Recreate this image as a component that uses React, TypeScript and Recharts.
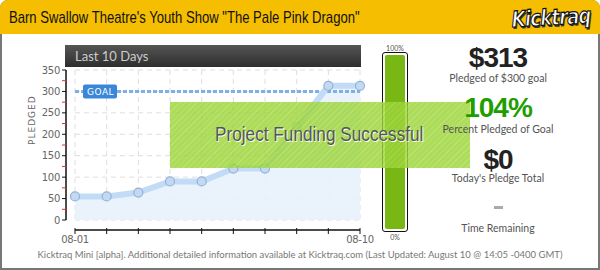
import React from 'react';
import {
  ComposedChart, Area, Line, XAxis, YAxis, CartesianGrid, ReferenceLine,
  BarChart, Bar,
} from 'recharts';

const days = ['08-01', '08-02', '08-03', '08-04', '08-05', '08-06', '08-07', '08-08', '08-09', '08-10'];
const pledged = [55, 55, 64, 90, 90, 120, 120, 217, 313, 313];
const yTicks = [0, 25, 50, 75, 100, 125, 150, 175, 200, 225, 250, 275, 300, 325, 350];
const gridValues = [0, 50, 100, 150, 200, 250, 300, 350];
const goal = 300;
const percentFunded = [104];

const chartData = days.map((day, i) => ({ day, pledged: pledged[i] }));
const barData = percentFunded.map((p) => ({ name: 'funded', pct: Math.min(p, 100) }));

const sans = '"Liberation Sans", Arial, sans-serif';
const thin = 'Lato, "Open Sans", sans-serif';

// y axis sits 9px left of the plot, x axis 10px below it
const YTick = (props: any) => {
  const { x, y, payload } = props;
  const major = payload.value % 50 === 0;
  return (
    <g>
      <line x1={x - 7} x2={x - 3} y1={y} y2={y} stroke={major ? '#111' : '#e03030'} strokeWidth={1} />
      {major && (
        <text x={x - 9} y={y} dy={3.5} textAnchor="end" fontSize={10} fill="#666" fontFamily="DejaVu Sans" letterSpacing={-0.3}>
          {payload.value}
        </text>
      )}
    </g>
  );
};

const XTick = (props: any) => {
  const { x, y, payload, index } = props;
  const show = index === 0 || index === days.length - 1;
  return (
    <g>
      <line x1={x} x2={x} y1={y + 2} y2={y + 8} stroke="#111" strokeWidth={1} />
      {show && (
        <text x={x} y={y} dy={16.5} textAnchor="middle" fontSize={10} fill="#666" fontFamily="DejaVu Sans" letterSpacing={-0.3}>
          {payload.value}
        </text>
      )}
    </g>
  );
};

const GoalLabel = (props: any) => {
  const { viewBox } = props;
  const x = viewBox.x + 8;
  const y = viewBox.y;
  return (
    <g>
      <rect x={x} y={y - 7} width={34} height={14} rx={2} fill="#3a87d8" />
      <text x={x + 4} y={y + 3.5} fontSize={9} fill="#fff" fontFamily="DejaVu Sans" letterSpacing={0.5}>GOAL</text>
    </g>
  );
};

const bigStat = (top: number, text: string, color: string) => (
  <div
    style={{
      position: 'absolute', left: 398, width: 200, top, textAlign: 'center',
      fontSize: 28, color, lineHeight: '22px', fontFamily: sans, fontWeight: 700, letterSpacing: -1,
    }}
  >
    {text}
  </div>
);

const smallStat = (top: number, text: string) => (
  <div
    style={{
      position: 'absolute', left: 398, width: 200, top, textAlign: 'center',
      fontSize: 10.5, color: '#555', lineHeight: 1, fontFamily: thin,
    }}
  >
    {text}
  </div>
);

export default function App() {
  return (
    <div style={{ position: 'absolute', left: 0, top: 0, width: 600, height: 270, background: '#fff', overflow: 'hidden' }}>
      <style>{`
        .y-shift { transform: translateX(-9px); }
        .x-shift { transform: translateY(10px); }
      `}</style>
      {/* frame */}
      <div style={{ position: 'absolute', left: 0, top: 0, width: 596, height: 266, border: '2px solid #777', borderRadius: '8px 8px 0 0' }} />
      {/* header */}
      <div style={{ position: 'absolute', left: 0, top: 0, width: 600, height: 34, background: '#f5be00', borderRadius: '8px 8px 0 0' }} />
      <div
        style={{
          position: 'absolute', left: 9, top: 8, fontSize: 17, fontFamily: sans, color: '#111', whiteSpace: 'nowrap',
          transform: 'scaleX(0.77)', transformOrigin: 'left top',
        }}
      >
        Barn Swallow Theatre's Youth Show "The Pale Pink Dragon"
      </div>
      <div
        style={{
          position: 'absolute', left: 503, top: 5, fontSize: 22, fontStyle: 'italic', fontWeight: 900,
          fontFamily: '"DejaVu Sans", sans-serif', color: '#fff', letterSpacing: -1, lineHeight: '26px',
          WebkitTextStroke: '1.2px #111', textShadow: '1px 2px 0 #333',
          transform: 'rotate(-3deg) scaleX(0.82)', transformOrigin: 'center', whiteSpace: 'nowrap',
        }}
      >
        Kicktraq
      </div>

      {/* chart title bar */}
      <div
        style={{
          position: 'absolute', left: 65, top: 45, width: 296, height: 22,
          background: 'linear-gradient(#555, #2e2e2e)', color: '#ccc', fontSize: 13,
          fontFamily: thin, lineHeight: '22px', paddingLeft: 10, boxSizing: 'border-box',
        }}
      >
        Last 10 Days
      </div>

      <div style={{ position: 'absolute', left: 0, top: 0 }}>
        <ComposedChart width={600} height={270} data={chartData} margin={{ top: 70, right: 240, bottom: 20, left: 35 }}>
          <CartesianGrid stroke="#dedede" strokeDasharray="5 4" horizontalValues={gridValues} />
          <XAxis
            dataKey="day" interval={0} className="x-shift" height={30}
            axisLine={{ stroke: '#111', strokeWidth: 1.5 }} tickLine={false}
            tickSize={4} tickMargin={2} tick={<XTick />}
          />
          <YAxis
            domain={[0, 350]} ticks={yTicks} interval={0} width={40} className="y-shift"
            axisLine={{ stroke: '#111', strokeWidth: 1.5 }} tickLine={false} tickSize={4} tickMargin={2}
            tick={<YTick />}
            label={{ value: 'PLEDGED', angle: -90, position: 'insideLeft', offset: -3, fill: '#666', fontSize: 9, fontFamily: 'DejaVu Sans', letterSpacing: 1 }}
          />
          <Area dataKey="pledged" type="linear" stroke="none" fill="#e8f1fc" fillOpacity={0.9} isAnimationActive={false} />
          <ReferenceLine y={goal} stroke="#7fb0e3" strokeWidth={3} strokeDasharray="4 2" label={<GoalLabel />} />
          <Line
            dataKey="pledged" type="linear" stroke="#c2dbf6" strokeWidth={6}
            dot={{ r: 4.5, fill: '#c4d9f1', stroke: '#92b3d8', strokeWidth: 1.2 }}
            isAnimationActive={false}
          />
        </ComposedChart>
      </div>

      {/* progress bar */}
      <div style={{ position: 'absolute', left: 382, top: 44, width: 26, textAlign: 'center', fontSize: 7, color: '#555', fontFamily: thin }}>100%</div>
      <div style={{ position: 'absolute', left: 382, top: 52, width: 24, height: 178, border: '1px solid #111', borderRadius: 3, background: '#fff' }} />
      <div style={{ position: 'absolute', left: 385, top: 55 }}>
        <BarChart width={20} height={174} data={barData} margin={{ top: 0, right: 0, bottom: 0, left: 0 }} barCategoryGap={0}>
          <XAxis dataKey="name" hide />
          <YAxis domain={[0, 100]} hide />
          <Bar dataKey="pct" fill="#78b714" radius={2} isAnimationActive={false} />
        </BarChart>
      </div>
      <div style={{ position: 'absolute', left: 382, top: 233, width: 26, textAlign: 'center', fontSize: 7, color: '#555', fontFamily: thin }}>0%</div>

      {/* success banner */}
      <div
        style={{
          position: 'absolute', left: 170, top: 102, width: 300, height: 66,
          background: 'repeating-linear-gradient(135deg, rgba(155,212,55,0.82) 0px, rgba(155,212,55,0.82) 3px, rgba(170,220,80,0.82) 3px, rgba(170,220,80,0.82) 4px)',
        }}
      />
      <div
        style={{
          position: 'absolute', left: 215, top: 123, fontSize: 20, fontFamily: sans, color: '#555',
          textShadow: '1px 1px 0 #fff', whiteSpace: 'nowrap', transform: 'scaleX(0.86)', transformOrigin: 'left top',
        }}
      >
        Project Funding Successful
      </div>

      {/* stats */}
      {bigStat(47, '$313', '#222')}
      {smallStat(73, 'Pledged of $300 goal')}
      {bigStat(97, '104%', '#1f9e00')}
      {smallStat(124, 'Percent Pledged of Goal')}
      {bigStat(149, '$0', '#222')}
      {smallStat(173, "Today's Pledge Total")}
      <div style={{ position: 'absolute', left: 494, top: 206, width: 9, height: 3, background: '#aaa' }} />
      {smallStat(223, 'Time Remaining')}

      {/* footer */}
      <div style={{ position: 'absolute', left: 0, top: 249, width: 600, textAlign: 'center', fontSize: 9.5, color: '#777', fontFamily: thin, whiteSpace: 'nowrap' }}>
        Kicktraq Mini [alpha]. Additional detailed information available at Kicktraq.com (Last Updated: August 10 @ 14:05 -0400 GMT)
      </div>
    </div>
  );
}
